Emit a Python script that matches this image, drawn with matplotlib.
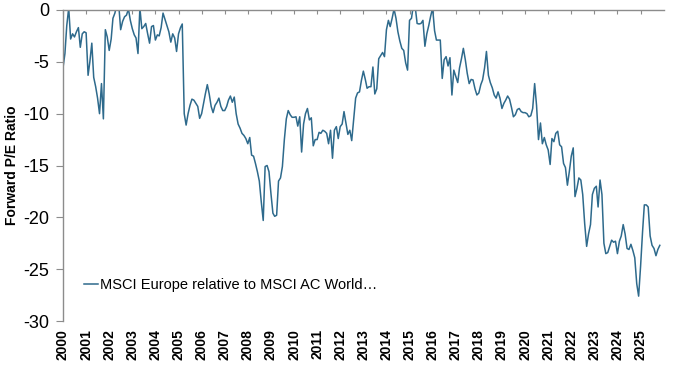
import matplotlib
matplotlib.use("Agg")
import matplotlib.pyplot as plt
import pandas as pd

plt.rcParams['font.family'] = ['Liberation Sans', 'DejaVu Sans']
plt.rcParams['axes.unicode_minus'] = False

# Monthly relative forward P/E (MSCI Europe minus MSCI AC World), Jan 2000 - Nov 2025
v2000 = [-5.6, -4.2, -1.5, 0.2, -2.8, -2.3, -2.6, -2.1, -1.7, -3.6, -2.3, -2.1]
v2001 = [-2.2, -6.3, -5.0, -3.2, -6.5, -7.4, -8.5, -10.0, -7.1, -10.5, -1.9, -2.6]
v2002 = [-3.9, -2.8, -0.8, -0.3, 0.5, 0.5, -1.9, -1.1, -0.65, -0.5, 0.1, -1.0]
v2003 = [-1.8, -2.4, -2.7, -4.2, 0.2, -1.8, -1.6, -1.3, -2.3, -3.2, -1.6, -1.5]
v2004 = [-2.9, -2.4, -2.5, -1.7, -0.3, -0.9, -1.5, -2.1, -3.1, -2.3, -2.7, -4.0]
v2005 = [-2.3, -1.7, -1.35, -10.0, -11.1, -10.0, -9.2, -8.6, -8.7, -9.0, -9.3, -10.45]
v2006 = [-10.0, -9.0, -8.1, -7.2, -8.1, -9.3, -9.9, -9.2, -8.9, -8.5, -9.3, -9.7]
v2007 = [-9.7, -9.3, -8.7, -8.3, -8.9, -8.4, -10.0, -11.0, -11.4, -11.9, -12.1, -12.4]
v2008 = [-12.9, -12.3, -14.0, -14.1, -14.8, -15.6, -16.5, -18.5, -20.3, -15.1, -15.0, -15.6]
v2009 = [-17.7, -19.6, -19.9, -19.8, -16.5, -16.2, -15.1, -12.5, -10.5, -9.7, -10.1, -10.35]
v2010 = [-10.35, -10.3, -11.2, -10.3, -13.7, -11.0, -10.0, -9.5, -10.6, -10.4, -13.1, -12.5]
v2011 = [-12.5, -11.8, -11.9, -11.6, -11.7, -11.9, -12.9, -11.6, -14.3, -11.6, -11.25, -12.4]
v2012 = [-11.25, -11.0, -9.8, -10.9, -12.0, -11.6, -12.6, -10.6, -8.5, -8.0, -7.9, -6.8]
v2013 = [-5.9, -6.7, -7.55, -7.4, -7.4, -5.5, -8.1, -7.6, -4.7, -4.4, -4.1, -4.5]
v2014 = [-1.9, -1.0, -1.6, -0.8, 0.1, -0.8, -2.1, -3.0, -3.7, -3.9, -5.1, -5.8]
v2015 = [-1.0, -0.8, 0.4, 0.3, -1.3, -1.35, -1.3, -1.0, -3.5, -2.3, -1.5, -0.6]
v2016 = [0.2, -2.0, -2.9, -2.9, -2.9, -6.6, -4.8, -4.5, -5.4, -4.6, -8.2, -5.8]
v2017 = [-6.4, -7.0, -5.6, -4.7, -3.7, -4.8, -6.1, -7.1, -6.7, -6.75, -7.6, -8.2]
v2018 = [-8.0, -7.2, -6.75, -5.6, -4.0, -6.3, -7.0, -7.5, -8.2, -8.5, -7.9, -8.5]
v2019 = [-9.5, -9.0, -8.7, -8.3, -8.6, -9.4, -10.3, -10.1, -9.6, -9.5, -9.8, -9.9]
v2020 = [-9.9, -10.0, -10.3, -10.2, -9.5, -7.1, -9.2, -12.5, -10.9, -12.9, -12.3, -13.0]
v2021 = [-13.5, -14.9, -12.4, -12.7, -11.9, -11.7, -13.0, -13.2, -14.8, -15.2, -16.9, -15.6]
v2022 = [-14.1, -13.3, -18.0, -17.2, -16.2, -16.4, -17.8, -20.6, -22.8, -21.6, -20.7, -17.8]
v2023 = [-17.2, -17.0, -19.0, -16.4, -17.8, -22.5, -23.5, -23.4, -22.8, -22.2, -22.4, -22.3]
v2024 = [-23.5, -22.3, -21.8, -20.7, -21.6, -23.0, -23.1, -22.6, -23.2, -23.9, -26.4, -27.6]
v2025 = [-24.7, -21.4, -18.8, -18.8, -19.0, -21.8, -22.7, -23.0, -23.7, -23.1, -22.7]

series_label = "MSCI Europe relative to MSCI AC World…"
years = list(range(2000, 2026))
yticks = [0, -5, -10, -15, -20, -25, -30]

values = (v2000 + v2001 + v2002 + v2003 + v2004 + v2005 + v2006 + v2007 + v2008 +
          v2009 + v2010 + v2011 + v2012 + v2013 + v2014 + v2015 + v2016 + v2017 +
          v2018 + v2019 + v2020 + v2021 + v2022 + v2023 + v2024 + v2025)
dates = pd.date_range("2000-01-01", periods=len(values), freq="MS")

fig = plt.figure(figsize=(6.8, 3.77), dpi=100)
ax = fig.add_axes([0.0926, 0.1485, 0.8834, 0.825])

ax.plot(dates, values, color="#2E6A8C", lw=1.1, label=series_label)

ax.set_ylim(-30, 0)
ax.set_xlim(pd.Timestamp("2000-01-01"), pd.Timestamp("2026-01-01"))
ax.set_yticks(yticks)
ax.set_yticklabels([str(t) for t in yticks])
ax.set_xticks([pd.Timestamp(f"{y}-01-01") for y in years])
ax.set_xticklabels([str(y) for y in years], rotation=90, fontweight="bold", fontsize=10)

for s in ["right", "bottom"]:
    ax.spines[s].set_visible(False)
for s in ["left", "top"]:
    ax.spines[s].set_color("#8C8C8C")
    ax.spines[s].set_linewidth(1.0)

ax.tick_params(axis="x", bottom=False, top=True, labelbottom=True, labeltop=False,
               direction="in", length=3, color="#8C8C8C", pad=6)
ax.tick_params(axis="y", direction="out", length=5, color="#8C8C8C", labelsize=13, pad=5)

ax.set_ylabel("Forward P/E Ratio", fontsize=10, fontweight="bold", labelpad=3)

leg = ax.legend(loc="center left", bbox_to_anchor=(0.026, 0.115), frameon=False,
                fontsize=10.5, handlelength=0.9, handletextpad=0.15, borderaxespad=0)

fig.savefig("out.png", dpi=100)
